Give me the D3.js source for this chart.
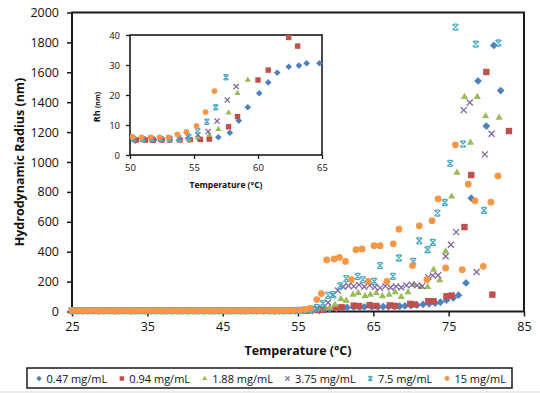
<!DOCTYPE html>
<html><head><meta charset="utf-8">
<script src="https://cdn.jsdelivr.net/npm/d3@7"></script>
<style>body{margin:0;background:#fff;} svg{display:block;font-family:"Open Sans",sans-serif;}</style>
</head><body><svg id="c" width="540" height="393"></svg>
<script>
// ---------- data ----------
const seriesNames = ["0.47 mg/mL", "0.94 mg/mL", "1.88 mg/mL", "3.75 mg/mL", "7.5 mg/mL", "15 mg/mL"];
const seriesColors = ["#4F81BD", "#C0504D", "#9BBB59", "#8064A2", "#4BACC6", "#F79646"];
const seriesShapes = ["diamond", "square", "triangle", "x", "star", "circle"];

const xTicksMain = [25, 35, 45, 55, 65, 75, 85];
const yTicksMain = [0, 200, 400, 600, 800, 1000, 1200, 1400, 1600, 1800, 2000];
const xTicksInset = [50, 55, 60, 65];
const yTicksInset = [0, 10, 20, 30, 40];

// shared low-temperature readings (°C)
const lowT = [25.0,25.7,26.4,27.1,27.8,28.5,29.2,29.9,30.6,31.3,32.0,32.7,33.4,34.1,34.8,35.5,36.2,36.9,37.6,38.3,39.0,39.7,40.4,41.1,41.8,42.5,43.2,43.9,44.6,45.3,46.0,46.7,47.4,48.1,48.8,49.5];
const lowR047 = [4.9,4.8,4.9,5.0,4.8,4.9,4.9,5.0,4.8,4.9,4.9,5.0,4.9,4.8,4.9,5.0,4.9,4.8,4.9,4.9,5.0,4.8,4.9,4.9,5.0,4.9,4.8,4.9,4.9,5.0,4.8,4.9,4.9,5.0,4.9,4.8];
const lowR094 = [5.0,5.1,4.9,5.0,5.0,5.1,4.9,5.0,5.0,5.1,5.0,4.9,5.0,5.1,5.0,5.0,4.9,5.0,5.1,5.0,5.0,4.9,5.0,5.1,5.0,5.0,4.9,5.0,5.0,5.1,5.0,4.9,5.0,5.0,5.1,5.0];
const lowR188 = [5.0,4.9,5.0,5.0,5.1,5.0,4.9,5.0,5.0,5.0,5.1,5.0,4.9,5.0,5.0,5.0,5.1,5.0,4.9,5.0,5.0,5.1,5.0,4.9,5.0,5.0,5.0,5.1,5.0,4.9,5.0,5.0,5.1,5.0,5.0,4.9];
const lowR375 = [5.2,5.3,5.2,5.2,5.3,5.2,5.3,5.2,5.2,5.3,5.2,5.2,5.3,5.2,5.3,5.2,5.2,5.3,5.2,5.2,5.3,5.2,5.3,5.2,5.2,5.3,5.2,5.2,5.3,5.2,5.3,5.2,5.2,5.3,5.2,5.2];
const lowR75  = [5.4,5.3,5.4,5.4,5.3,5.4,5.4,5.3,5.4,5.4,5.3,5.4,5.4,5.3,5.4,5.4,5.3,5.4,5.4,5.3,5.4,5.4,5.3,5.4,5.4,5.3,5.4,5.4,5.3,5.4,5.4,5.3,5.4,5.4,5.3,5.4];
const lowR15  = [6.0,6.1,5.9,6.0,6.0,6.1,5.9,6.0,6.0,6.1,5.9,6.0,6.0,6.1,5.9,6.0,6.0,6.1,5.9,6.0,6.0,6.1,5.9,6.0,6.0,6.1,5.9,6.0,6.0,6.1,5.9,6.0,6.0,6.1,5.9,6.0];

// transition / aggregation region readings
const t047 = [50.4,51.2,51.9,52.5,53.1,53.9,54.6,55.4,56.2,56.9,57.8,58.5,59.2,60.1,60.8,61.5,62.4,63.2,63.8,64.8,65.6,66.3,67.0,67.8,68.5,69.2,70.0,70.8,71.6,72.4,73.2,73.9,74.7,75.6,76.3,77.3,78.0,78.9,80.0,81.0,81.9];
const r047 = [4.8,5.0,5.0,4.9,5.0,5.1,5.2,5.4,5.6,5.9,7.4,11.4,15.9,20.6,24.2,27.4,29.4,29.8,30.6,30.6,31,32,33,34,35,37,40,43,47,52,56,62,76,91,109,191,758,1542,1240,1780,1478];

const t094 = [50.5,51.2,51.8,52.5,53.1,53.9,54.7,55.5,56.2,57.7,58.4,60.0,60.8,62.4,63.1,64.5,65.4,67.2,67.9,69.9,70.5,72.3,73.0,74.7,75.4,77.1,78.0,80.0,80.8,83.0];
const r094 = [5.0,5.0,4.9,5.0,5.0,5.0,5.1,5.2,5.3,9.4,12.8,25.0,28.3,39.2,36.3,43,37,41,37,51,47,69,69,102,107,565,913,1602,113,1207];

const t188 = [50.3,51.0,51.7,52.4,53.1,53.8,54.6,55.3,56.2,56.9,57.7,58.4,59.2,59.9,60.7,61.4,62.3,63.0,63.9,64.6,65.4,66.2,67.1,67.9,68.7,69.6,70.4,71.3,72.2,73.0,73.8,74.6,75.4,76.1,77.1,77.9,78.8,79.9,81.7];
const r188 = [5.0,5.0,4.9,5.0,5.0,5.0,5.1,5.9,6.7,8.6,14.1,20.6,25.0,45,84,73,113,124,102,113,124,102,113,129,98,129,180,165,165,280,209,402,769,929,1436,1129,1436,1307,1296];

const t375 = [50.3,51.0,51.7,52.4,53.1,53.8,54.5,55.3,56.1,56.8,57.6,58.3,59.0,59.6,60.3,61.0,61.7,62.4,63.1,63.8,64.5,65.2,65.9,66.6,67.3,68.0,68.7,69.4,70.1,70.8,71.5,72.3,72.9,73.6,74.6,75.3,76.0,77.0,77.8,78.7,79.8,80.7];
const r375 = [5.2,5.3,5.3,5.3,5.4,5.6,6.3,6.8,7.8,11.3,18.3,22.8,60,110,140,165,172,168,178,166,175,163,158,170,160,168,160,175,180,175,170,230,240,242,369,447,531,1347,1398,264,1051,1189];

const t75 = [50.3,51.0,51.7,52.4,53.1,53.8,54.6,55.3,56.0,56.7,57.5,58.3,59.0,59.7,60.6,61.4,62.9,63.6,65.1,65.9,67.6,68.4,70.3,71.1,72.2,72.9,73.5,74.5,75.2,75.9,76.9,78.6,79.7,81.6];
const r75 = [5.3,5.3,5.4,5.4,5.5,5.6,6.0,8.0,11.1,15.9,25.9,53,108,113,173,220,235,213,202,307,235,358,335,473,413,462,658,729,991,1902,1120,1789,676,1796];

const t15 = [50.2,50.9,51.6,52.3,53.0,53.7,54.4,55.2,55.9,56.6,57.5,58.1,58.8,59.8,60.5,61.3,62.1,62.7,63.5,64.3,65.1,65.9,66.8,67.65,68.4,70.2,71.1,72.1,72.8,73.6,74.6,75.9,76.8,77.6,78.5,79.6,80.6,81.55];
const r15 = [6.1,5.9,5.9,5.9,5.9,6.9,7.7,9.7,14.3,21.3,80,120,345,351,362,335,213,413,418,202,440,440,202,453,551,307,573,213,607,753,291,1115,280,851,740,302,731,907];

const seriesT = [t047, t094, t188, t375, t75, t15];
const seriesR = [r047, r094, r188, r375, r75, r15];
const seriesLow = [lowR047, lowR094, lowR188, lowR375, lowR75, lowR15];

const series = seriesNames.map((name, i) => ({
  name, color: seriesColors[i], shape: seriesShapes[i],
  points: lowT.map((t, j) => ({t, r: seriesLow[i][j]}))
          .concat(seriesT[i].map((t, j) => ({t, r: seriesR[i][j]})))
}));

// ---------- drawing ----------
const svg = d3.select("#c");
const ink = "#1a1a1a";

function markerPath(shape, k) {
  if (shape === "diamond") { const a = 3.9*k; return `M0,${-a}L${a},0L0,${a}L${-a},0Z`; }
  if (shape === "square") { const a = 3.2*k; return `M${-a},${-a}H${a}V${a}H${-a}Z`; }
  if (shape === "triangle") { const s = 7.2*k, h = s*0.866; return `M0,${-2*h/3}L${s/2},${h/3}L${-s/2},${h/3}Z`; }
  if (shape === "x") { const a = 3.0*k; return `M${-a},${-a}L${a},${a}M${a},${-a}L${-a},${a}`; }
  if (shape === "star") { const a = 3.0*k, b = 2.0*k; return `M${-a},${-a}L${a},${a}M${a},${-a}L${-a},${a}M${-b},${-a}H${b}M${-b},${a}H${b}`; }
  const r = 3.4*k; return `M${r},0A${r},${r} 0 1,1 ${-r},0A${r},${r} 0 1,1 ${r},0Z`;
}
function styleMarker(sel, s) {
  const lined = (s.shape === "x" || s.shape === "star");
  sel.attr("fill", lined ? "none" : s.color)
     .attr("stroke", lined ? s.color : "none")
     .attr("stroke-width", lined ? 1.3 : 0);
}

// main chart
const x = d3.scaleLinear().domain([25, 85]).range([72, 524]);
const y = d3.scaleLinear().domain([0, 2000]).range([311.5, 12.5]);

const gx = svg.append("g").attr("transform", `translate(0,${y(0)})`)
  .call(d3.axisBottom(x).tickValues(xTicksMain).tickFormat(d3.format("d")).tickSize(5).tickPadding(6));
const gy = svg.append("g").attr("transform", `translate(${x(25)},0)`)
  .call(d3.axisLeft(y).tickValues(yTicksMain).tickFormat(d3.format("d")).tickSize(5).tickPadding(8));
[gx, gy].forEach(g => {
  g.select(".domain").remove();
  g.selectAll("line").attr("stroke", ink).attr("stroke-width", 1.5);
  g.selectAll("text").attr("fill", "#111").style("font-size", "12.5px").style("font-family", "Open Sans");
});
svg.append("rect").attr("x", x(25)).attr("y", y(2000)).attr("width", x(85)-x(25)).attr("height", y(0)-y(2000))
  .attr("fill", "none").attr("stroke", ink).attr("stroke-width", 2);

svg.append("text").attr("transform", `translate(24,${(y(0)+y(2000))/2}) rotate(-90)`)
  .attr("text-anchor", "middle").style("font-weight", "bold").style("font-size", "12.5px").attr("fill", "#111")
  .text("Hydrodynamic Radius (nm)");
svg.append("text").attr("x", (x(25)+x(85))/2).attr("y", 355)
  .attr("text-anchor", "middle").style("font-weight", "bold").style("font-size", "12.5px").attr("fill", "#111")
  .text("Temperature (°C)");

const mainG = svg.append("g");
series.forEach(s => {
  mainG.append("g").selectAll("path").data(s.points).join("path")
    .attr("transform", d => `translate(${x(d.t)},${y(d.r)})`)
    .attr("d", markerPath(s.shape, 1))
    .call(styleMarker, s);
});

// inset chart
const xi = d3.scaleLinear().domain([50, 65]).range([130, 322]);
const yi = d3.scaleLinear().domain([0, 40]).range([155, 35]);
svg.append("rect").attr("x", xi(50)).attr("y", yi(40)).attr("width", xi(65)-xi(50)).attr("height", yi(0)-yi(40)).attr("fill", "#fff");
svg.append("clipPath").attr("id", "insetClip").append("rect")
  .attr("x", xi(50)-4).attr("y", yi(40)-4).attr("width", xi(65)-xi(50)+8).attr("height", yi(0)-yi(40)+4);
const gxi = svg.append("g").attr("transform", `translate(0,${yi(0)})`)
  .call(d3.axisBottom(xi).tickValues(xTicksInset).tickSize(4).tickPadding(5));
const gyi = svg.append("g").attr("transform", `translate(${xi(50)},0)`)
  .call(d3.axisLeft(yi).tickValues(yTicksInset).tickSize(4).tickPadding(6));
[gxi, gyi].forEach(g => {
  g.select(".domain").remove();
  g.selectAll("line").attr("stroke", ink).attr("stroke-width", 1.3);
  g.selectAll("text").attr("fill", "#111").style("font-size", "9.5px").style("font-family", "Open Sans");
});
svg.append("rect").attr("x", xi(50)).attr("y", yi(40)).attr("width", xi(65)-xi(50)).attr("height", yi(0)-yi(40))
  .attr("fill", "none").attr("stroke", ink).attr("stroke-width", 1.6);
const insetG = svg.append("g").attr("clip-path", "url(#insetClip)");
series.forEach(s => {
  insetG.append("g").selectAll("path").data(s.points.filter(d => d.t >= 50 && d.t <= 65 && d.r <= 40.5)).join("path")
    .attr("transform", d => `translate(${xi(d.t)},${yi(d.r)})`)
    .attr("d", markerPath(s.shape, 0.85))
    .call(styleMarker, s);
});
const rh = svg.append("text").attr("transform", `translate(100,107) rotate(-90)`)
  .attr("text-anchor", "middle").attr("fill", "#111").style("font-weight", "bold");
rh.append("tspan").style("font-size", "9px").text("Rh ");
rh.append("tspan").style("font-size", "7px").text("(nm)");
svg.append("text").attr("x", (xi(50)+xi(65))/2).attr("y", 188)
  .attr("text-anchor", "middle").style("font-weight", "bold").style("font-size", "8.5px").attr("fill", "#111")
  .text("Temperature (°C)");

// legend: items laid out left to right, spaced evenly between the first marker and the right end
svg.append("rect").attr("x", 27).attr("y", 368).attr("width", 485).attr("height", 20)
  .attr("fill", "#fff").attr("stroke", ink).attr("stroke-width", 1.5);
const legStart = 39, legEnd = 506, markGap = 7.5;
const legItems = series.map(s => {
  const g = svg.append("g");
  const m = g.append("path").attr("d", markerPath(s.shape, 0.7)).call(styleMarker, s);
  const t = g.append("text").attr("y", 382.5).style("font-size", "11px").attr("fill", "#111").text(s.name);
  return {m, t, w: t.node().getComputedTextLength()};
});
const totalW = d3.sum(legItems, d => markGap + d.w);
const between = (legEnd - legStart - totalW) / (legItems.length - 1);
let cur = legStart;
legItems.forEach(d => {
  d.m.attr("transform", `translate(${cur},378.5)`);
  d.t.attr("x", cur + markGap);
  cur += markGap + d.w + between;
});
svg.append("rect").attr("x", 0).attr("y", 391).attr("width", 540).attr("height", 2).attr("fill", "#ececec");
</script>
</body></html>
